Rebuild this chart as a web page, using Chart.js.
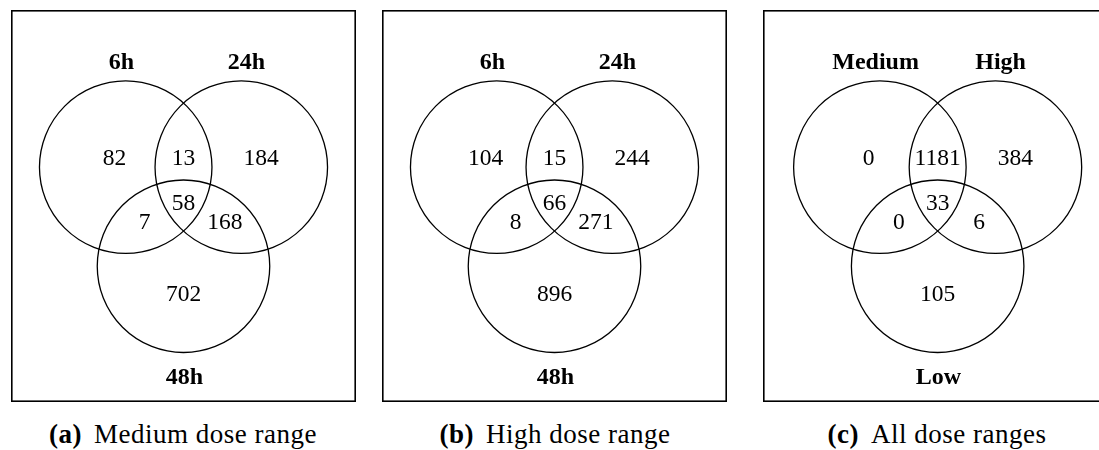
<!DOCTYPE html>
<html>
<head>
<meta charset="utf-8">
<script src="https://cdn.jsdelivr.net/npm/chart.js@4.4.1/dist/chart.umd.min.js"></script>
<style>
  html, body { margin: 0; padding: 0; background: #fff; }
  body { width: 1099px; height: 450px; overflow: hidden; position: relative; }
  .panel { position: absolute; top: 10px; width: 345px; height: 392px; }
  .cap {
    position: absolute; top: 419px; white-space: nowrap;
    font-family: "Liberation Serif", "Times New Roman", serif;
    font-size: 27px; letter-spacing: 0.5px; color: #000;
    transform: translateX(-50%);
  }
  .cap b { margin-right: 12px; }
</style>
</head>
<body>
<div class="panel" style="left:11px"><canvas id="venn0" width="345" height="392"></canvas></div>
<div class="panel" style="left:382px"><canvas id="venn1" width="345" height="392"></canvas></div>
<div class="panel" style="left:763px"><canvas id="venn2" width="345" height="392"></canvas></div>
<div class="cap" id="cap0" style="left:183px"></div>
<div class="cap" id="cap1" style="left:555px"></div>
<div class="cap" id="cap2" style="left:937px"></div>

<script>
// Region counts, in the order:
// only A, A∩B, only B, A∩C, A∩B∩C, B∩C, only C
const mediumCounts   = [82, 13, 184, 7, 58, 168, 702];
const highCounts     = [104, 15, 244, 8, 66, 271, 896];
const allRangeCounts = [0, 1181, 384, 0, 33, 6, 105];

// Set names (A, B, C)
const timeSets = ["6h", "24h", "48h"];
const doseSets = ["Medium", "High", "Low"];

// Sub-figure captions
const captionTags  = ["(a)", "(b)", "(c)"];
const captionTexts = ["Medium dose range", "High dose range", "All dose ranges"];

// ---- diagram geometry (in units of one circle radius) ----
const circleCenters = [[-0.67, 0], [0.67, 0], [0, -1.148]];
const regionAnchors = [[-0.8, 0.11], [0, 0.11], [0.9, 0.11], [-0.45, -0.63], [0, -0.41], [0.48, -0.63], [0, -1.455]];
const setAnchors    = [[-0.72, 1.229], [0.73, 1.229], [0.01, -2.42]];
// horizontal placement of the diagram inside each frame
const xRanges = [[-2.0, 2.0], [-2.0, 2.0], [-2.025, 1.975]];

const panels = [
  { counts: mediumCounts,   sets: timeSets },
  { counts: highCounts,     sets: timeSets },
  { counts: allRangeCounts, sets: doseSets }
];

const SERIF = '"Liberation Serif", "Times New Roman", serif';

function drawCenteredText(ctx, text, x, y, font, size) {
  ctx.font = font;
  ctx.textAlign = 'center';
  ctx.textBaseline = 'alphabetic';
  ctx.fillText(text, x, y + size * 0.33);
}

const vennPlugin = {
  id: 'venn',
  afterDatasetsDraw(chart) {
    const { ctx, chartArea, scales: { x, y } } = chart;
    ctx.save();
    ctx.strokeStyle = '#000';
    ctx.fillStyle = '#000';

    // frame
    ctx.lineWidth = 1.6;
    ctx.strokeRect(chartArea.left + 0.8, chartArea.top + 0.8,
                   chartArea.right - chartArea.left - 1.6, chartArea.bottom - chartArea.top - 1.6);

    // circles, radius = one unit on the x scale
    ctx.lineWidth = 1.3;
    circleCenters.forEach(([cx, cy]) => {
      const px = x.getPixelForValue(cx);
      const py = y.getPixelForValue(cy);
      const r = x.getPixelForValue(cx + 1) - px;
      ctx.beginPath();
      ctx.arc(px, py, r, 0, Math.PI * 2);
      ctx.stroke();
    });

    // region counts
    const countMeta = chart.getDatasetMeta(0);
    countMeta.data.forEach((pt, i) => {
      const v = chart.data.datasets[0].data[i].v;
      drawCenteredText(ctx, String(v), pt.x, pt.y, `23.5px ${SERIF}`, 23.5);
    });

    // set names
    const setMeta = chart.getDatasetMeta(1);
    setMeta.data.forEach((pt, i) => {
      const name = chart.data.datasets[1].data[i].name;
      drawCenteredText(ctx, name, pt.x, pt.y, `bold 24px ${SERIF}`, 24);
    });
    ctx.restore();
  }
};

panels.forEach((p, k) => {
  new Chart(document.getElementById('venn' + k), {
    type: 'scatter',
    data: {
      datasets: [
        {
          label: 'counts',
          data: p.counts.map((v, i) => ({ x: regionAnchors[i][0], y: regionAnchors[i][1], v })),
          pointRadius: 0
        },
        {
          label: 'sets',
          data: p.sets.map((name, i) => ({ x: setAnchors[i][0], y: setAnchors[i][1], name })),
          pointRadius: 0
        }
      ]
    },
    options: {
      responsive: false,
      animation: false,
      events: [],
      layout: { padding: 0 },
      scales: {
        x: { type: 'linear', min: xRanges[k][0], max: xRanges[k][1], display: false },
        y: { type: 'linear', min: -2.72, max: 1.82, display: false }
      },
      plugins: { legend: { display: false }, tooltip: { enabled: false } }
    },
    plugins: [vennPlugin]
  });

  const cap = document.getElementById('cap' + k);
  const b = document.createElement('b');
  b.textContent = captionTags[k];
  cap.appendChild(b);
  cap.appendChild(document.createTextNode(captionTexts[k]));
});
</script>
</body>
</html>
